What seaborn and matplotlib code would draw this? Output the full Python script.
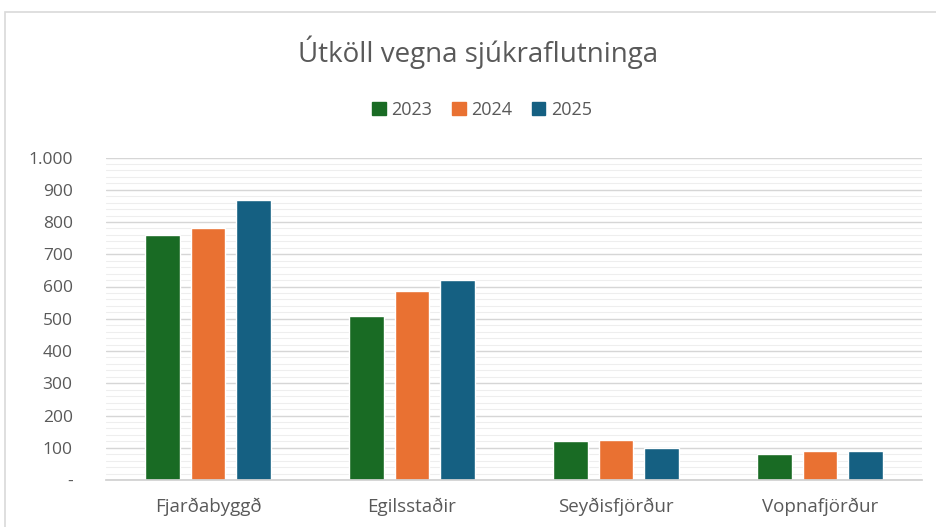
import matplotlib
matplotlib.use("Agg")
import pandas as pd
import matplotlib.pyplot as plt
import matplotlib.ticker as mticker
from matplotlib.patches import Rectangle
import seaborn as sns

# Data
staðir = ["Fjarðabyggð", "Egilsstaðir", "Seyðisfjörður", "Vopnafjörður"]
ar = ["2023", "2024", "2025"]
utkoll_2023 = [760, 510, 120, 80]
utkoll_2024 = [781, 587, 123, 90]
utkoll_2025 = [867, 619, 98, 90]
litir = ["#196B24", "#E97132", "#156082"]

df = pd.DataFrame({
    "Staður": staðir * 3,
    "Ár": [a for a in ar for _ in staðir],
    "Útköll": utkoll_2023 + utkoll_2024 + utkoll_2025,
})

sns.set_theme(style="white")
plt.rcParams["font.family"] = ["Open Sans", "DejaVu Sans"]
grey = "#595959"

fig = plt.figure(figsize=(9.36, 5.27), dpi=100)
ax = fig.add_axes([106 / 936, 1 - 480 / 527, 816 / 936, 322.5 / 527])

sns.barplot(data=df, x="Staður", y="Útköll", hue="Ár", palette=litir,
            width=0.667, gap=0.236, ax=ax, legend=False, saturation=1)

ax.set_xlim(-0.5, 3.5)
ax.set_ylim(0, 1000)
ax.yaxis.set_major_locator(mticker.MultipleLocator(100))
ax.yaxis.set_minor_locator(mticker.MultipleLocator(20))
ax.yaxis.set_major_formatter(mticker.FuncFormatter(
    lambda v, p: "-" if v == 0 else f"{int(v):,}".replace(",", ".")))
ax.grid(True, which="major", axis="y", color="#d6d6d6", lw=1.0)
ax.grid(True, which="minor", axis="y", color="#eeeeee", lw=0.8)
ax.set_axisbelow(True)
for s in ["top", "right", "left"]:
    ax.spines[s].set_visible(False)
ax.spines["bottom"].set_color("#d0d0d0")
ax.tick_params(axis="both", which="both", length=0, colors=grey)
ax.tick_params(axis="y", labelsize=12.5, pad=24)
ax.tick_params(axis="x", labelsize=13.5, pad=13)
ax.set_xlabel("")
ax.set_ylabel("")

fig.text(478 / 936, 1 - 52 / 527, "Útköll vegna sjúkraflutninga",
         ha="center", va="center", fontsize=20, color=grey)

handles = [Rectangle((0, 0), 1, 1, color=c) for c in litir]
fig.legend(handles, ar, loc="center", bbox_to_anchor=(482 / 936, 1 - 110 / 527),
           ncol=3, frameon=False, fontsize=13, labelcolor=grey,
           handlelength=0.75, handleheight=0.75, handletextpad=0.3,
           columnspacing=1.1)

# Chart border
fig.patches.append(Rectangle((5 / 936, -0.05), 1.0, 1 - 12 / 527 + 0.05,
                             transform=fig.transFigure, fill=False,
                             edgecolor="#d9d9d9", lw=1.2))

fig.savefig("out.png", dpi=100)
